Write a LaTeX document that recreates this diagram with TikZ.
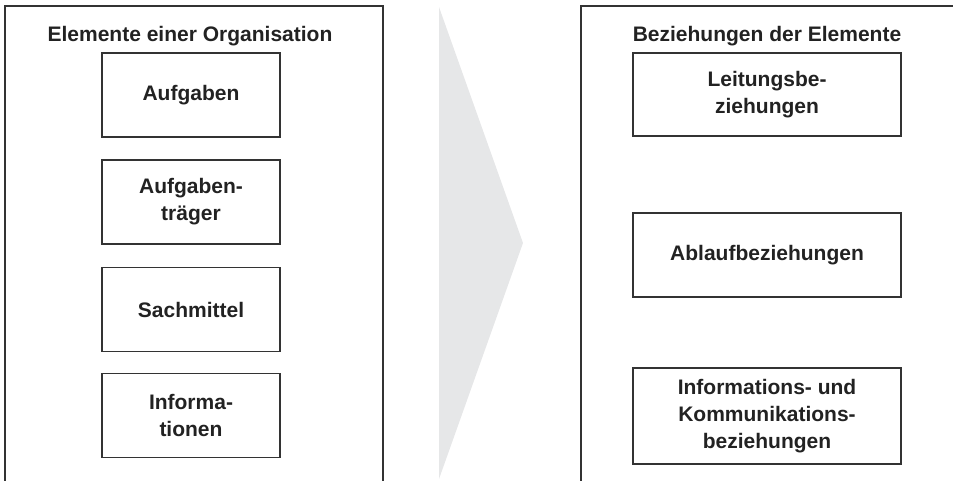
\documentclass[tikz,border=0pt]{standalone}
\usepackage{fontspec}
\setmainfont{Liberation Sans}
\definecolor{ink}{HTML}{222222}
\definecolor{framecol}{HTML}{333333}
\definecolor{arrowgray}{HTML}{E6E7E8}
\begin{document}
\begin{tikzpicture}[x=1pt,y=-1pt,
  frame/.style={draw=framecol,line width=1.5pt},
  heading/.style={text=ink,font=\fontsize{21}{26}\selectfont\bfseries,inner sep=0pt,anchor=base},
  elembox/.style={draw=framecol,line width=1.5pt,text=ink,align=center,
    font=\fontsize{21}{27}\selectfont\bfseries,inner sep=0pt},
  leftbox/.style={elembox,minimum width=178pt,minimum height=84pt},
  rightbox/.style={elembox,minimum width=268pt}]
\useasboundingbox (0,0) rectangle (953,481);

% transition arrow between the two panels
\fill[arrowgray] (439,7) -- (523,243) -- (439,479) -- cycle;

% open panel frames
\draw[frame] (5,481) -- (5,6) -- (383,6) -- (383,481);
\draw[frame] (581,481) -- (581,6) -- (953,6);

% left panel: elements
\node[heading] (lhead) at (190,42) {Elemente einer Organisation};
\node[leftbox] (aufg) at (191,95) {Aufgaben};
\node[leftbox] (traeger) at (191,202) {Aufgaben-\\träger};
\node[leftbox] (sach) at (191,309.5) {Sachmittel};
\node[leftbox] (info) at (191,415.5) {Informa-\\tionen};

% right panel: relations
\node[heading] (rhead) at (767,42) {Beziehungen der Elemente};
\node[rightbox,minimum height=83pt] (leit) at (767,94.5) {Leitungsbe-\\ziehungen};
\node[rightbox,minimum height=84pt] (ablauf) at (767,255) {Ablaufbeziehungen};
\node[rightbox,minimum height=96pt] (ikom) at (767,416) {Informations- und\\Kommunikations-\\beziehungen};
\end{tikzpicture}
\end{document}
